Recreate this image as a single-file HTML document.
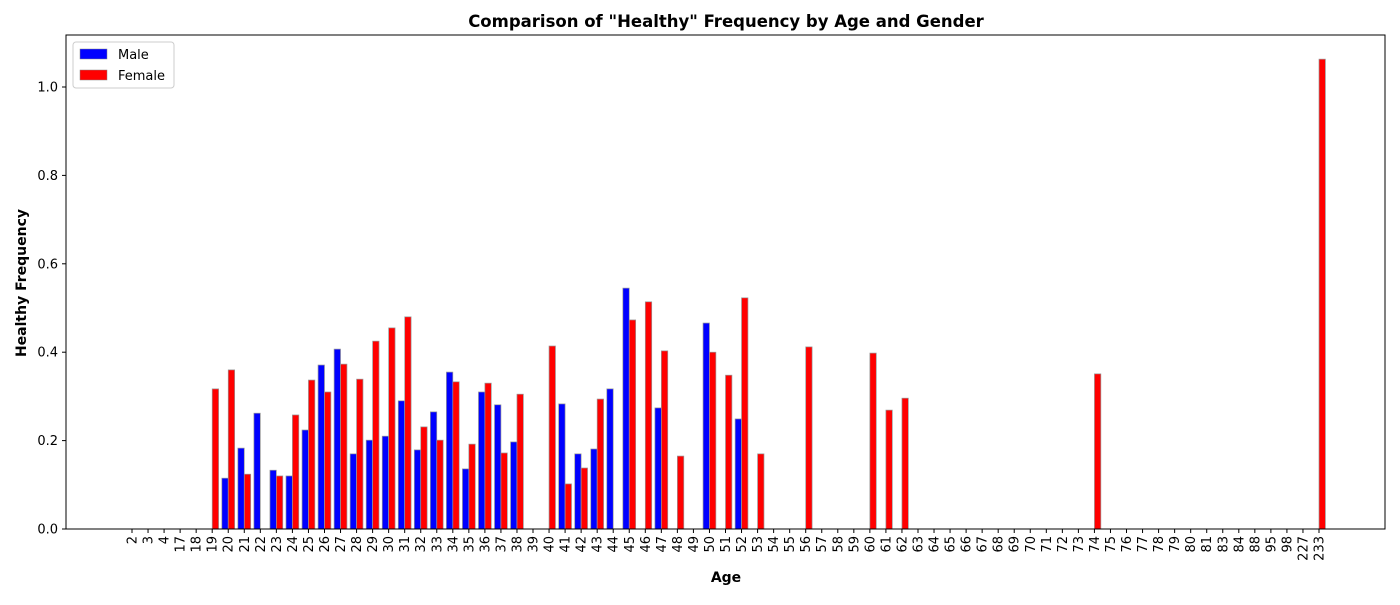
<!DOCTYPE html>
<html><head><meta charset="utf-8"><style>
html,body{margin:0;padding:0;background:#fff;}
svg text{font-family:"DejaVu Sans","Liberation Sans",sans-serif;}
</style></head><body>
<svg id="chart" width="1400" height="600" xmlns="http://www.w3.org/2000/svg">
<text x="726" y="27" text-anchor="middle" font-size="16.5" font-weight="bold">Comparison of "Healthy" Frequency by Age and Gender</text>
<text transform="translate(26,283) rotate(-90)" text-anchor="middle" font-size="14" font-weight="bold">Healthy Frequency</text>
<text x="726" y="582" text-anchor="middle" font-size="14" font-weight="bold">Age</text>
<g id="bars"></g>
<g id="axes"></g>
<rect x="66" y="35" width="1319" height="494" fill="none" stroke="#000" stroke-width="1"/>
<g>
<rect x="73" y="42" width="101" height="46" rx="3" fill="#fff" stroke="#ccc"/>
<g><rect x="80" y="49" width="27" height="10" fill="#0000ff" stroke="#888" stroke-width="0.5"/><text x="118" y="59" font-size="13">Male</text></g>
<g><rect x="80" y="70" width="27" height="10" fill="#ff0000" stroke="#888" stroke-width="0.5"/><text x="118" y="80" font-size="13">Female</text></g>
</g>
</svg>
<script>
const categories=[2,3,4,17,18,19,20,21,22,23,24,25,26,27,28,29,30,31,32,33,34,35,36,37,38,39,40,41,42,43,44,45,46,47,48,49,50,51,52,53,54,55,56,57,58,59,60,61,62,63,64,65,66,67,68,69,70,71,72,73,74,75,76,77,78,79,80,81,83,84,88,95,98,227,233];
const maleAges=[20,21,22,23,24,25,26,27,28,29,30,31,32,33,34,35,36,37,38,41,42,43,44,45,47,50,52];
const maleValues=[0.115,0.183,0.262,0.133,0.12,0.224,0.371,0.407,0.17,0.201,0.21,0.29,0.179,0.265,0.355,0.136,0.31,0.281,0.197,0.283,0.17,0.181,0.317,0.545,0.274,0.466,0.249];
const femaleAges=[19,20,21,23,24,25,26,27,28,29,30,31,32,33,34,35,36,37,38,40,41,42,43,45,46,47,48,50,51,52,53,56,60,61,62,74,233];
const femaleValues=[0.317,0.36,0.124,0.12,0.258,0.337,0.31,0.373,0.339,0.425,0.455,0.48,0.231,0.201,0.333,0.192,0.33,0.172,0.305,0.414,0.102,0.138,0.294,0.473,0.514,0.403,0.165,0.4,0.348,0.523,0.17,0.412,0.398,0.269,0.296,0.351,1.063];
const yTicks=[0,0.2,0.4,0.6,0.8,1.0];
const NS="http://www.w3.org/2000/svg";
const x0=132,step=(1319-132)/74,yBase=529,yScale=442,bw=step*0.4;
const xPos=c=>x0+categories.indexOf(c)*step;
const yPos=v=>yBase-v*yScale;
const bars=document.getElementById('bars'),axes=document.getElementById('axes');
function bar(age,v,color,off,name){
 const r=document.createElementNS(NS,'rect');
 r.setAttribute('x',xPos(age)+off);r.setAttribute('y',yPos(v));
 r.setAttribute('width',bw);r.setAttribute('height',v*yScale);
 r.setAttribute('fill',color);r.setAttribute('stroke','#999');r.setAttribute('stroke-width','0.7');
 
 
 bars.appendChild(r);
}
maleAges.forEach((a,i)=>bar(a,maleValues[i],'#0000ff',-bw,'bar-male-'+a));
femaleAges.forEach((a,i)=>bar(a,femaleValues[i],'#ff0000',0,'bar-female-'+a));
categories.forEach(c=>{
 const x=xPos(c);
 const l=document.createElementNS(NS,'line');
 l.setAttribute('x1',x);l.setAttribute('x2',x);l.setAttribute('y1',529);l.setAttribute('y2',533);l.setAttribute('stroke','#000');
 
 
 axes.appendChild(l);
 const t=document.createElementNS(NS,'text');
 t.setAttribute('transform','translate('+(x+4.5)+',536) rotate(-90)');
 t.setAttribute('text-anchor','end');t.setAttribute('font-size','13');t.textContent=c;
 
 
 axes.appendChild(t);
});
yTicks.forEach(v=>{
 const y=yPos(v);
 const l=document.createElementNS(NS,'line');
 l.setAttribute('x1',62);l.setAttribute('x2',66);l.setAttribute('y1',y);l.setAttribute('y2',y);l.setAttribute('stroke','#000');
 
 
 axes.appendChild(l);
 const t=document.createElementNS(NS,'text');
 t.setAttribute('x',58);t.setAttribute('y',y+4.5);t.setAttribute('text-anchor','end');t.setAttribute('font-size','13');
 t.textContent=v.toFixed(1);
 
 
 axes.appendChild(t);
});
</script>
</body></html>
